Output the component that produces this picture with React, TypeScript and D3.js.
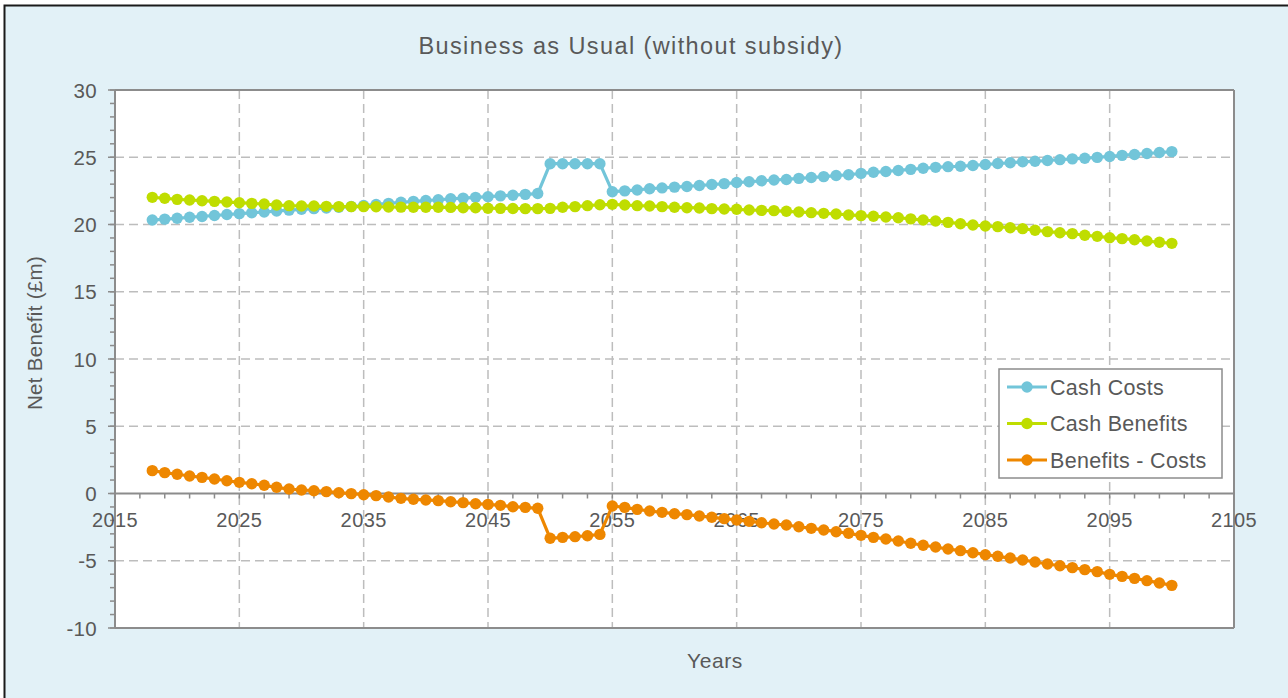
import React from "react";
import * as d3 from "d3";

const years: number[] = [
  2018, 2019, 2020, 2021, 2022, 2023, 2024, 2025, 2026, 2027, 2028, 2029, 2030, 2031, 2032, 2033, 2034,
  2035, 2036, 2037, 2038, 2039, 2040, 2041, 2042, 2043, 2044, 2045, 2046, 2047, 2048, 2049, 2050, 2051,
  2052, 2053, 2054, 2055, 2056, 2057, 2058, 2059, 2060, 2061, 2062, 2063, 2064, 2065, 2066, 2067, 2068,
  2069, 2070, 2071, 2072, 2073, 2074, 2075, 2076, 2077, 2078, 2079, 2080, 2081, 2082, 2083, 2084, 2085,
  2086, 2087, 2088, 2089, 2090, 2091, 2092, 2093, 2094, 2095, 2096, 2097, 2098, 2099, 2100,
];

const cashCosts: number[] = [
  20.33, 20.4, 20.46, 20.54, 20.6, 20.67, 20.74, 20.81, 20.87, 20.93, 21.0, 21.07, 21.13, 21.18, 21.22, 21.28,
  21.34, 21.41, 21.49, 21.57, 21.65, 21.72, 21.78, 21.84, 21.91, 21.96, 22.02, 22.07, 22.13, 22.18, 22.24, 22.3,
  24.52, 24.52, 24.52, 24.52, 24.52,
  22.44, 22.5, 22.57, 22.66, 22.72, 22.78, 22.83, 22.9, 22.97, 23.04, 23.12, 23.18, 23.25, 23.31, 23.35, 23.43,
  23.49, 23.56, 23.64, 23.7, 23.8, 23.88, 23.94, 24.02, 24.1,
  24.18, 24.25, 24.3, 24.33, 24.39, 24.46, 24.53, 24.59, 24.66, 24.7, 24.76, 24.82, 24.88, 24.93, 24.99, 25.06,
  25.14, 25.21, 25.28, 25.35, 25.42,
];

const cashBenefits: number[] = [
  22.02, 21.95, 21.87, 21.82, 21.77, 21.72, 21.67, 21.62, 21.57, 21.52, 21.45, 21.4, 21.38, 21.37, 21.35, 21.33,
  21.33, 21.33, 21.32, 21.3, 21.29, 21.28, 21.28, 21.28, 21.27, 21.25, 21.24, 21.21, 21.2, 21.19, 21.18, 21.18,
  21.2, 21.28, 21.33, 21.4, 21.47,
  21.5, 21.45, 21.4, 21.38, 21.33, 21.28, 21.25, 21.23, 21.18, 21.15, 21.13, 21.08, 21.05, 21.03, 20.98, 20.93,
  20.88, 20.83, 20.78, 20.71, 20.66, 20.61, 20.56, 20.5, 20.42,
  20.33, 20.26, 20.16, 20.06, 19.96, 19.89, 19.84, 19.76, 19.69, 19.57, 19.47, 19.39, 19.32, 19.2, 19.12, 19.02,
  18.95, 18.87, 18.77, 18.68, 18.6,
];

const benefitsMinusCosts: number[] = [
  1.7, 1.55, 1.43, 1.3, 1.2, 1.08, 0.95, 0.83, 0.73, 0.61, 0.46, 0.33, 0.26, 0.21, 0.14, 0.06, -0.01, -0.09,
  -0.16, -0.26, -0.36, -0.43, -0.48, -0.53, -0.61, -0.68, -0.76, -0.81, -0.88, -0.98, -1.03, -1.1,
  -3.33, -3.26, -3.21, -3.14, -3.04,
  -0.93, -1.03, -1.18, -1.3, -1.4, -1.5, -1.57, -1.67, -1.77, -1.87, -1.97, -2.07, -2.17, -2.27, -2.34, -2.47,
  -2.59, -2.71, -2.84, -2.96, -3.11, -3.26, -3.38, -3.53, -3.7,
  -3.85, -3.98, -4.13, -4.25, -4.4, -4.55, -4.67, -4.8, -4.94, -5.09, -5.24, -5.37, -5.51, -5.66, -5.81, -6.01,
  -6.16, -6.31, -6.48, -6.65, -6.83,
];

const seriesNames: string[] = ["Cash Costs", "Cash Benefits", "Benefits - Costs"];
const seriesColors: string[] = ["#72C5D9", "#BFDD00", "#EE8700"];
const xTicks: number[] = [2015, 2025, 2035, 2045, 2055, 2065, 2075, 2085, 2095, 2105];
const yTicks: number[] = [-10, -5, 0, 5, 10, 15, 20, 25, 30];

const title = "Business as Usual (without subsidy)";
const xTitle = "Years";
const yTitle = "Net Benefit (£m)";

const W = 1288;
const H = 698;
const FONT = "'Liberation Sans', Arial, sans-serif";
const TEXT = "#595959";
const AXIS = "#8C8C8C";
const GRID = "#BDBDBD";

export default function App() {
  const x = d3.scaleLinear().domain([2015, 2105]).range([115, 1234]);
  const y = d3.scaleLinear().domain([-10, 30]).range([628, 90]);
  const allSeries = [cashCosts, cashBenefits, benefitsMinusCosts];
  const line = d3
    .line<number>()
    .x((_, i) => x(years[i]))
    .y((d) => y(d));

  const minorX = d3.range(2015, 2106, 2);
  const minorY = d3.range(-10, 31, 1);
  const y0 = y(0);

  const legendX = 999;
  const legendY = 369;
  const legendRowY = [387, 423.5, 460];

  return (
    <svg
      width={W}
      height={H}
      style={{ position: "absolute", left: 0, top: 0, display: "block" }}
      fontFamily={FONT}
    >
      <rect x={0} y={0} width={W} height={H} fill="#ffffff" />
      <rect x={4.5} y={5.5} width={W + 20} height={H + 20} fill="#E2F1F7" stroke="#1a1a1a" strokeWidth={2} />

      <text x={631} y={54} textAnchor="middle" fontSize={23.5} fill={TEXT} letterSpacing={1.4}>
        {title}
      </text>

      {/* plot area */}
      <rect x={x(2015)} y={y(30)} width={x(2105) - x(2015)} height={y(-10) - y(30)} fill="#ffffff" />

      {/* grid */}
      {xTicks.slice(1, -1).map((t) => (
        <line
          key={"gx" + t}
          x1={x(t)}
          x2={x(t)}
          y1={y(30)}
          y2={y(-10)}
          stroke={GRID}
          strokeWidth={1.5}
          strokeDasharray="9,5"
        />
      ))}
      {yTicks.slice(1, -1).filter((t) => t !== 0).map((t) => (
        <line
          key={"gy" + t}
          x1={x(2015)}
          x2={x(2105)}
          y1={y(t)}
          y2={y(t)}
          stroke={GRID}
          strokeWidth={1.5}
          strokeDasharray="9,5"
        />
      ))}

      {/* plot border */}
      <line x1={x(2015)} x2={x(2105)} y1={y(30)} y2={y(30)} stroke={AXIS} strokeWidth={2} />
      <line x1={x(2105)} x2={x(2105)} y1={y(30)} y2={y(-10)} stroke={AXIS} strokeWidth={2} />
      <line x1={x(2015)} x2={x(2105)} y1={y(-10)} y2={y(-10)} stroke={AXIS} strokeWidth={2} />

      {/* y axis */}
      <line x1={x(2015)} x2={x(2015)} y1={y(30)} y2={y(-10)} stroke={AXIS} strokeWidth={2} />
      {minorY.map((t) => (
        <line key={"my" + t} x1={x(2015) - 5} x2={x(2015)} y1={y(t)} y2={y(t)} stroke={AXIS} strokeWidth={1.5} />
      ))}
      {yTicks.map((t) => (
        <g key={"ty" + t}>
          <line x1={x(2015) - 7} x2={x(2015)} y1={y(t)} y2={y(t)} stroke={AXIS} strokeWidth={1.5} />
          <text x={97} y={y(t) + 7.5} textAnchor="end" fontSize={20.5} fill={TEXT} letterSpacing={0.3}>
            {t}
          </text>
        </g>
      ))}

      {/* x axis at zero */}
      <line x1={x(2015)} x2={x(2105)} y1={y0} y2={y0} stroke={AXIS} strokeWidth={2} />
      {minorX.map((t) => (
        <line key={"mx" + t} x1={x(t)} x2={x(t)} y1={y0} y2={y0 + 5} stroke={AXIS} strokeWidth={1.5} />
      ))}
      {xTicks.map((t) => (
        <text key={"tx" + t} x={x(t)} y={y0 + 33} textAnchor="middle" fontSize={20} fill={TEXT} letterSpacing={0.4}>
          {t}
        </text>
      ))}

      {/* axis titles */}
      <text x={715} y={668} textAnchor="middle" fontSize={21} fill={TEXT} letterSpacing={0.6}>
        {xTitle}
      </text>
      <text
        transform={`translate(42, 333) rotate(-90)`}
        textAnchor="middle"
        fontSize={20.5}
        fill={TEXT}
        letterSpacing={0.3}
      >
        {yTitle}
      </text>

      {/* series */}
      {allSeries.map((s, si) => (
        <g key={"s" + si}>
          <path d={line(s) || ""} fill="none" stroke={seriesColors[si]} strokeWidth={3.2} strokeLinejoin="round" />
          {s.map((v, i) => (
            <circle key={i} cx={x(years[i])} cy={y(v)} r={5.7} fill={seriesColors[si]} />
          ))}
        </g>
      ))}

      {/* legend */}
      <rect x={legendX} y={legendY} width={223} height={109} fill="#ffffff" stroke={AXIS} strokeWidth={1.5} />
      {seriesNames.map((n, i) => (
        <g key={"lg" + i}>
          <line x1={1007} x2={1047} y1={legendRowY[i]} y2={legendRowY[i]} stroke={seriesColors[i]} strokeWidth={3.2} />
          <circle cx={1027} cy={legendRowY[i]} r={5.7} fill={seriesColors[i]} />
          <text x={1050} y={legendRowY[i] + 7.5} fontSize={21.5} fill={TEXT} letterSpacing={0.3}>
            {n}
          </text>
        </g>
      ))}
    </svg>
  );
}
